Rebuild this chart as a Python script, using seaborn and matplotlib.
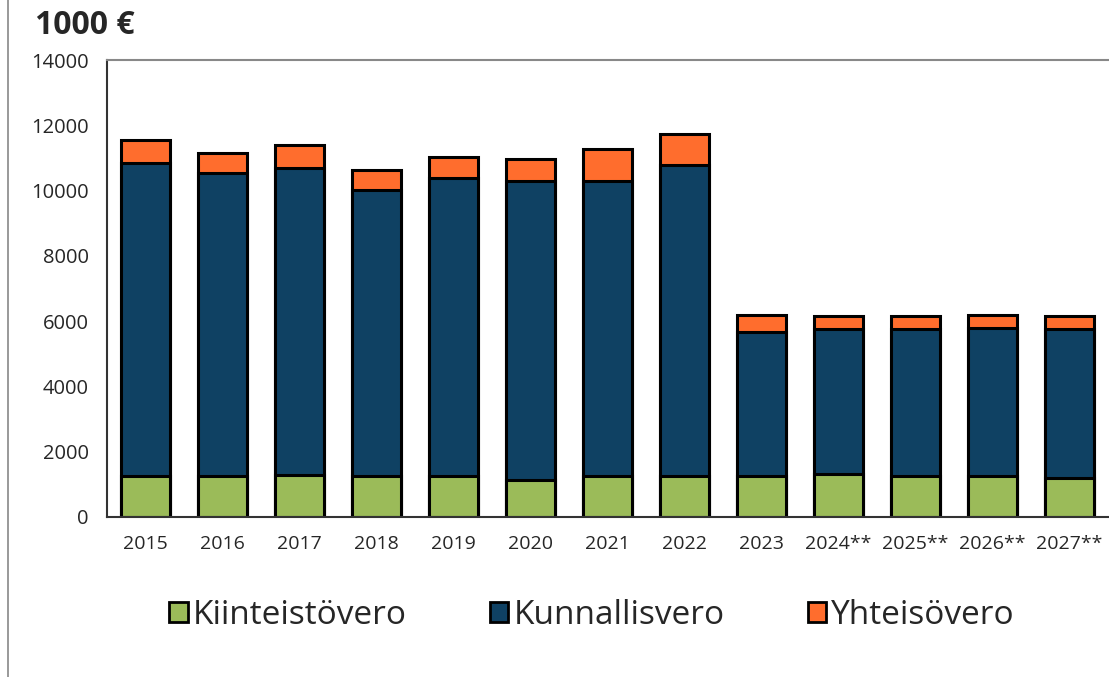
import seaborn as sns
import pandas as pd
import matplotlib.pyplot as plt
from matplotlib.patches import Patch
from matplotlib.lines import Line2D

# Data (1000 €)
years = ["2015", "2016", "2017", "2018", "2019", "2020", "2021", "2022",
         "2023", "2024**", "2025**", "2026**", "2027**"]
kiinteistovero = [1260, 1260, 1290, 1260, 1250, 1140, 1245, 1260, 1260, 1305, 1270, 1245, 1205]
kunnallisvero = [9585, 9290, 9400, 8770, 9145, 9155, 9050, 9525, 4410, 4445, 4490, 4555, 4545]
yhteisovero = [693, 613, 693, 612, 622, 683, 990, 959, 521, 419, 386, 398, 419]
series_labels = ["Kiinteistövero", "Kunnallisvero", "Yhteisövero"]
y_ticks = list(range(0, 14001, 2000))

custom_palette = ["#9BBB59", "#0F4163", "#FF6D2D"]

df = pd.DataFrame({"Year": years,
                   "Kiinteistövero": kiinteistovero,
                   "Kunnallisvero": kunnallisvero,
                   "Yhteisövero": yhteisovero})
# cumulative sums for stacking
df["c1"] = df["Kiinteistövero"]
df["c2"] = df["c1"] + df["Kunnallisvero"]
df["c3"] = df["c2"] + df["Yhteisövero"]

sns.set_style("white")
plt.rcParams['font.family'] = ['Open Sans', 'DejaVu Sans']

f = plt.figure(figsize=(11.09, 6.77), dpi=100)
ax = f.add_axes([107 / 1109, 160 / 677, 1001 / 1109, 457 / 677])

# Plot from top of stack down so lower segments are drawn over
for col, color in zip(["c3", "c2", "c1"], custom_palette[::-1]):
    sns.barplot(x="Year", y=col, data=df, color=color, order=years,
                width=0.64, edgecolor="black", linewidth=2.2, saturation=1, ax=ax)

ax.set_xlim(-0.5, len(years) - 0.5)
ax.set_ylim(0, 14000)
ax.set_yticks(y_ticks)
ax.set_xlabel("")
ax.set_ylabel("")

# x ticks at category boundaries, labels centred
ax.set_xticks([i - 0.5 for i in range(len(years) + 1)])
ax.set_xticklabels([])
ax.set_xticks(range(len(years)), minor=True)
ax.set_xticklabels(years, minor=True, fontsize=14)
ax.tick_params(axis="x", which="minor", length=0, pad=13)
ax.tick_params(axis="x", which="major", direction="inout", length=12, width=1, color="#333333")
ax.tick_params(axis="y", direction="inout", length=12, width=1, color="#333333", labelsize=14.5, pad=7)

for s in ["left", "bottom"]:
    ax.spines[s].set_color("#333333")
    ax.spines[s].set_linewidth(1.5)
ax.spines["top"].set_color("#888888")
ax.spines["top"].set_linewidth(1.5)
ax.spines["right"].set_visible(False)

# Title
f.text(35 / 1109, 1 - 25 / 677, "1000 €", fontsize=23, fontweight="bold", va="center", ha="left")

# Legend
handles = [Patch(facecolor=c, edgecolor="black", linewidth=2) for c in custom_palette]
f.legend(handles, series_labels, loc="center", bbox_to_anchor=(592 / 1109, 1 - 615 / 677),
         ncol=3, frameon=False, fontsize=24, handlelength=0.55, handleheight=0.55,
         handletextpad=0.15, columnspacing=2.5)

# Left frame line
f.add_artist(Line2D([8 / 1109, 8 / 1109], [0, 1], color="#888888", linewidth=1.2))

plt.savefig("out.png", dpi=100)
